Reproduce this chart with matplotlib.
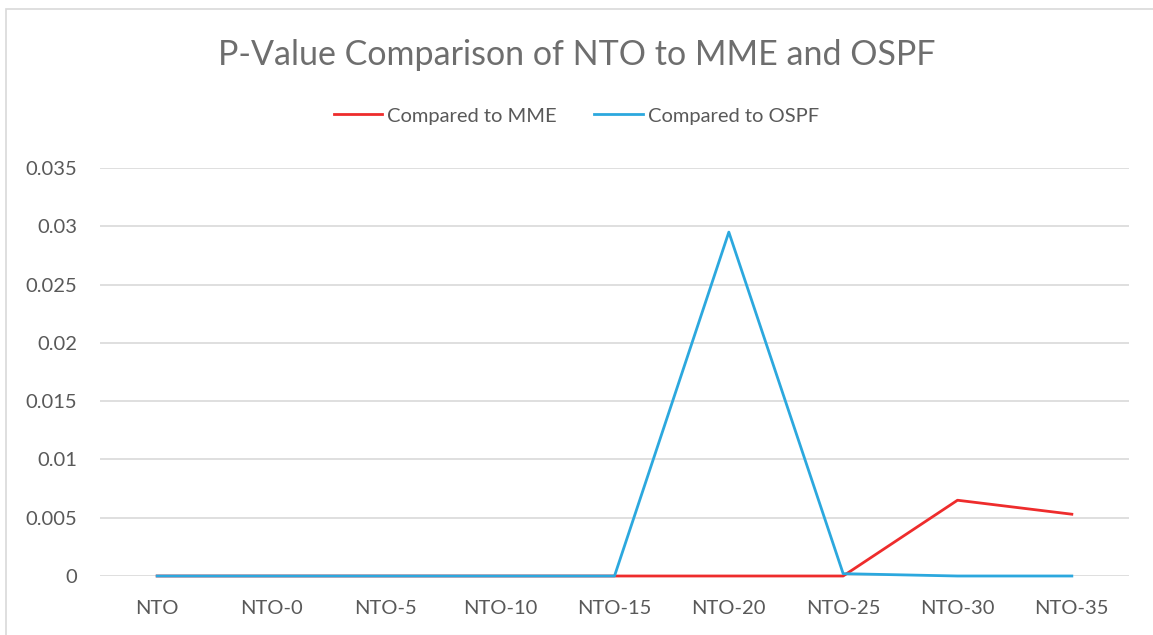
import matplotlib.pyplot as plt
from matplotlib.patches import Rectangle

categories = ["NTO", "NTO-0", "NTO-5", "NTO-10", "NTO-15", "NTO-20", "NTO-25", "NTO-30", "NTO-35"]
mme_pvalues = [0, 0, 0, 0, 0, 0, 0, 0.0065, 0.0053]
ospf_pvalues = [0, 0, 0, 0, 0, 0.0295, 0.0002, 0, 0]
yticks = [0, 0.005, 0.01, 0.015, 0.02, 0.025, 0.03, 0.035]
ytick_labels = ["0", "0.005", "0.01", "0.015", "0.02", "0.025", "0.03", "0.035"]

text_gray = "#595959"
plt.rcParams["font.family"] = ["Lato", "DejaVu Sans"]

W, H = 1153, 635
fig = plt.figure(figsize=(W / 100, H / 100), dpi=100)

# chart frame (only top and left edges fall inside the picture)
fig.patches.append(Rectangle((6 / W, -0.1), 1.2, 1 - 9 / H + 0.1, transform=fig.transFigure,
                             fill=False, edgecolor="#D9D9D9", linewidth=1.2))

ax = fig.add_axes([100 / W, 1 - 576 / H, 1029 / W, 408 / H])
x = range(len(categories))
ax.plot(x, mme_pvalues, color="#EE2C2C", linewidth=2.0, label="Compared to MME", zorder=3, clip_on=False)
ax.plot(x, ospf_pvalues, color="#2CA8DE", linewidth=2.0, label="Compared to OSPF", zorder=4, clip_on=False)

ax.set_xlim(-0.5, len(categories) - 0.5)
ax.set_ylim(0, 0.035)
ax.set_yticks(yticks, ytick_labels)
ax.set_xticks(list(x), categories)
ax.tick_params(length=0, labelsize=14.5, labelcolor=text_gray)
ax.tick_params(axis="y", pad=16.5)
ax.tick_params(axis="x", pad=17)
ax.grid(axis="y", color="#D9D9D9", linewidth=1.2)
ax.set_axisbelow(True)
for s in ax.spines.values():
    s.set_visible(False)

fig.text(0.5, 1 - 55 / H, "P-Value Comparison of NTO to MME and OSPF", ha="center", va="center",
         fontsize=24.5, color="#6E6E6E")
leg = fig.legend(loc="center", bbox_to_anchor=(0.5, 1 - 116 / H), ncol=2, frameon=False,
                 fontsize=14.5, handlelength=2.4, handletextpad=0.25, columnspacing=1.85)
for t in leg.get_texts():
    t.set_color(text_gray)

fig.savefig("out.png", dpi=100)
